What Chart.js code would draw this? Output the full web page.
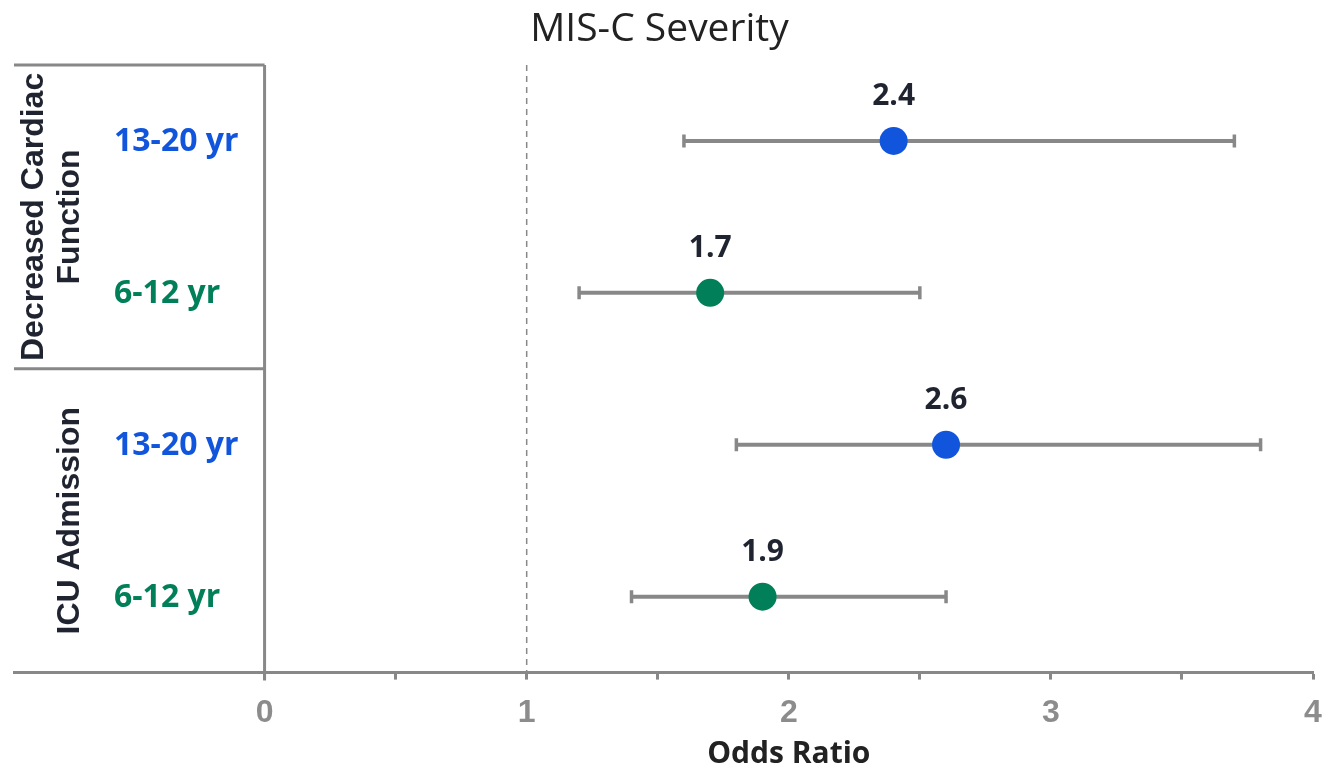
<!DOCTYPE html>
<html>
<head>
<meta charset="utf-8">
<script src="https://cdn.jsdelivr.net/npm/chart.js@4.4.1/dist/chart.umd.min.js"></script>
<style>
  html, body { margin: 0; padding: 0; background: #fff; }
  #wrap { width: 1327px; height: 768px; }
</style>
</head>
<body>
<div id="wrap"><canvas id="forest" width="1327" height="768"></canvas></div>
<script>
// chart data
const chartTitle = "MIS-C Severity";
const axisTitle = "Odds Ratio";
const rowLabels = ["13-20 yr", "6-12 yr", "13-20 yr", "6-12 yr"];
const rowPos = [0.5, 1.5, 2.5, 3.5];
const oddsRatio = [2.4, 1.7, 2.6, 1.9];
const ciLow = [1.6, 1.2, 1.8, 1.4];
const ciHigh = [3.7, 2.5, 3.8, 2.6];
const groupLabels = [["Decreased Cardiac", "Function"], ["ICU Admission"]];
const groupBounds = [[0, 2], [2, 4]];
const xTicks = [0, 0.5, 1, 1.5, 2, 2.5, 3, 3.5, 4];
const refLine = 1;

const BLUE = "#1155dd";
const GREEN = "#007f58";
const GRAY = "#888888";
const DARK = "#1f2430";
const rowColors = [BLUE, GREEN, BLUE, GREEN];

// one gray whisker dataset per row, caps drawn as rotated line points
const ciSets = rowLabels.map((_, i) => ({
  type: "scatter",
  data: [{ x: ciLow[i], y: rowPos[i] }, { x: ciHigh[i], y: rowPos[i] }],
  showLine: true,
  borderColor: GRAY,
  borderWidth: 4,
  pointStyle: "line",
  rotation: 90,
  pointRadius: 6.5,
  pointBorderWidth: 3.5,
  pointBorderColor: GRAY,
  order: 2
}));

const pointSet = {
  type: "scatter",
  data: oddsRatio.map((v, i) => ({ x: v, y: rowPos[i] })),
  pointRadius: 14,
  pointBackgroundColor: rowColors,
  pointBorderColor: rowColors,
  pointBorderWidth: 0,
  order: 0
};

const decor = {
  id: "decor",
  beforeDatasetsDraw(chart) {
    const { ctx, chartArea: a, scales: { x, y } } = chart;
    const x0 = x.getPixelForValue(0);
    ctx.save();
    ctx.strokeStyle = GRAY;
    ctx.lineWidth = 3;
    ctx.beginPath();
    // left panel frame
    ctx.moveTo(a.left, a.top); ctx.lineTo(x0, a.top);
    ctx.moveTo(x0, a.top); ctx.lineTo(x0, a.bottom + 8);
    ctx.moveTo(a.left, y.getPixelForValue(groupBounds[0][1]));
    ctx.lineTo(x0, y.getPixelForValue(groupBounds[0][1]));
    ctx.stroke();
    // reference line at OR = 1
    ctx.lineWidth = 1.5;
    ctx.setLineDash([6, 5]);
    ctx.beginPath();
    const xr = x.getPixelForValue(refLine);
    ctx.moveTo(xr, a.top); ctx.lineTo(xr, a.bottom);
    ctx.stroke();
    ctx.restore();
  },
  afterDatasetsDraw(chart) {
    const { ctx, chartArea: a, scales: { x, y } } = chart;
    ctx.save();
    // value labels
    ctx.font = "bold 30px 'Open Sans'";
    ctx.fillStyle = DARK;
    ctx.textAlign = "center";
    ctx.textBaseline = "middle";
    oddsRatio.forEach((v, i) => {
      ctx.fillText(v.toFixed(1), x.getPixelForValue(v), y.getPixelForValue(rowPos[i]) - 44);
    });
    // row labels
    ctx.font = "bold 32px 'Open Sans'";
    ctx.textAlign = "left";
    rowLabels.forEach((t, i) => {
      ctx.fillStyle = rowColors[i];
      ctx.fillText(t, a.left + 100, y.getPixelForValue(rowPos[i]) + 1);
    });
    // group labels (rotated)
    ctx.font = "bold 32px 'Liberation Sans'";
    ctx.fillStyle = DARK;
    ctx.textAlign = "center";
    groupLabels.forEach((lines, g) => {
      const cy = (y.getPixelForValue(groupBounds[g][0]) + y.getPixelForValue(groupBounds[g][1])) / 2;
      lines.forEach((t, k) => {
        const cx = a.left + 56 - (lines.length - 1 - k) * 36;
        ctx.save();
        ctx.translate(cx, cy);
        ctx.rotate(-Math.PI / 2);
        ctx.fillText(t, 0, 0);
        ctx.restore();
      });
    });
    // chart title and axis title
    ctx.font = "39px 'Open Sans'";
    ctx.fillStyle = "#222222";
    ctx.fillText(chartTitle, (a.left + a.right) / 2 - 4, 30);
    ctx.font = "bold 30px 'Open Sans'";
    ctx.fillText(axisTitle, (x.getPixelForValue(0) + a.right) / 2, 754);
    ctx.restore();
  }
};

const chart = new Chart(document.getElementById("forest"), {
  type: "scatter",
  data: { datasets: [...ciSets, pointSet] },
  options: {
    responsive: false,
    animation: false,
    layout: { padding: { top: 65, left: 12, right: 4, bottom: 22 } },
    plugins: { legend: { display: false }, tooltip: { enabled: false } },
    scales: {
      x: {
        type: "linear",
        min: -0.956,
        max: 4,
        afterBuildTicks: s => { s.ticks = xTicks.map(v => ({ value: v })); },
        afterFit: s => { s.paddingLeft = 0; s.paddingRight = 0; },
        ticks: {
          autoSkip: false,
          maxRotation: 0,
          padding: 14,
          color: "#8c8c8c",
          font: { family: "'Liberation Sans'", size: 32, weight: "bold" },
          callback: v => (Number.isInteger(v) ? String(v) : "")
        },
        grid: { drawOnChartArea: false, tickLength: 7, tickWidth: 3, color: GRAY },
        border: { color: GRAY, width: 3 }
      },
      y: {
        type: "linear",
        min: 0,
        max: 4,
        reverse: true,
        display: false
      }
    }
  },
  plugins: [decor]
});
</script>
</body>
</html>
